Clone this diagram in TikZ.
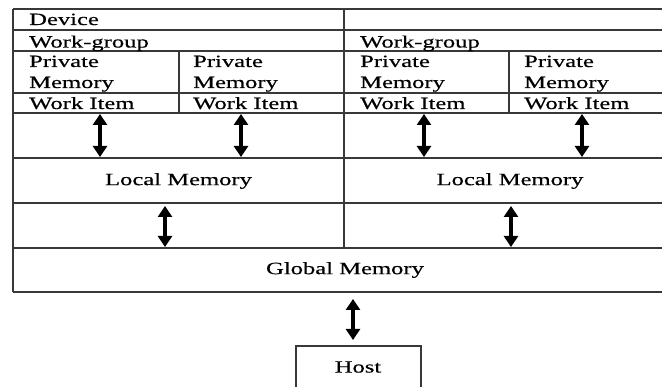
\documentclass[tikz,border=0pt]{standalone}
\usepackage{fontspec}
\setmainfont[FakeStretch=1.43,FakeBold=0.4]{Liberation Serif}
\usetikzlibrary{arrows.meta}

\tikzset{
	grid/.style={line width=2.2pt,black!78},
	cell/.style={anchor=base west,inner sep=0pt,align=left,font=\fontsize{17.2}{21}\selectfont},
	mid/.style={inner sep=0pt,font=\fontsize{17.2}{21}\selectfont},
	link/.style={line width=3.5pt,{Triangle[width=14pt,length=11pt]}-{Triangle[width=14pt,length=11pt]}}
}

\begin{document}
\begin{tikzpicture}[x=1pt,y=-1pt]
			\useasboundingbox (0,0) rectangle (662,387);
			\clip (0,0) rectangle (662,387);
			
			% table lines
			\foreach \y in {9,30,51,93,113,158,203,248,292}
				\draw[grid] (13,\y) -- (690,\y);
			\draw[grid] (13,9) -- (13,292);
			\draw[grid] (344,9) -- (344,248);
			\draw[grid] (179,51) -- (179,113);
			\draw[grid] (509,51) -- (509,113);
			
			% texts (base of a two-line cell is its last line)
			\node[cell] (dev)at(29,25) {Device};
			\node[cell] (wg1)at(29,47.5) {Work-group};
			\node[cell] (wg2)at(360,47.5) {Work-group};
			\node[cell] (pm1)at(29,88) {Private\\Memory};
			\node[cell] (pm2)at(193,88) {Private\\Memory};
			\node[cell] (pm3)at(360,88) {Private\\Memory};
			\node[cell] (pm4)at(524,88) {Private\\Memory};
			\node[cell] (wi1)at(29,109) {Work Item};
			\node[cell] (wi2)at(193,109) {Work Item};
			\node[cell] (wi3)at(360,109) {Work Item};
			\node[cell] (wi4)at(524,109) {Work Item};
			\node[mid] (lm1)at(178.5,181) {Local Memory};
			\node[mid] (lm2)at(510,181) {Local Memory};
			\node[mid] (gm)at(345,270) {Global Memory};
			\draw[grid] (296,400) |- (421,346) -- (421,400);
			\node[mid] (host)at(358,367) {Host};
			
			% arrows
			\coordinate (a1)at(100,114);  \coordinate (b1)at(100,157);
			\coordinate (a2)at(241,114);  \coordinate (b2)at(241,157);
			\coordinate (a3)at(424,114);  \coordinate (b3)at(424,157);
			\coordinate (a4)at(582,114);  \coordinate (b4)at(582,157);
			\coordinate (c1)at(165,206);  \coordinate (d1)at(165,247);
			\coordinate (c2)at(511,206);  \coordinate (d2)at(511,247);
			\coordinate (e)at(353,299);   \coordinate (f)at(353,340);
			
			\draw[link] (a1) -- (b1);
			\draw[link] (a2) -- (b2);
			\draw[link] (a3) -- (b3);
			\draw[link] (a4) -- (b4);
			\draw[link] (c1) -- (d1);
			\draw[link] (c2) -- (d2);
			\draw[link] (e) -- (f);
\end{tikzpicture}
\end{document}
